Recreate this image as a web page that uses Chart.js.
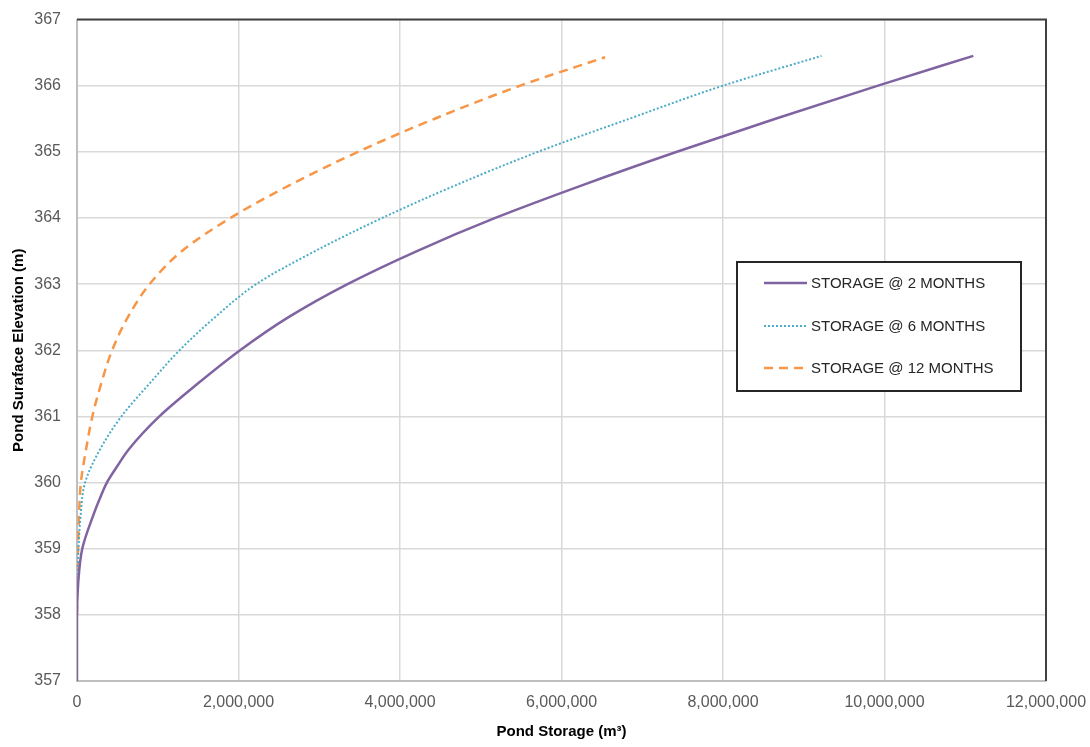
<!DOCTYPE html>
<html>
<head>
<meta charset="utf-8">
<title>Pond Storage</title>
<script src="https://cdn.jsdelivr.net/npm/chart.js@4.4.0/dist/chart.umd.min.js"></script>
<style>
  html, body { margin: 0; padding: 0; background: #fff; }
  #chart { display: block; }
</style>
</head>
<body>
<canvas id="chart" width="1090" height="747"></canvas>
<script>
// series labels
var seriesNames = ["STORAGE @ 2 MONTHS", "STORAGE @ 6 MONTHS", "STORAGE @ 12 MONTHS"];

// elevation (m) and storage (m3)
var elev2 = [357, 358, 358.5, 359, 359.5, 359.75, 360, 360.25, 360.5, 361, 361.5, 362, 362.5, 363, 363.5, 364, 364.5, 365, 365.5, 366, 366.45];
var storage2 = [0, 0, 16000, 65000, 200000, 280000, 370000, 500000, 640000, 1020000, 1500000, 2020000, 2620000, 3350000, 4210000, 5180000, 6270000, 7430000, 8650000, 9920000, 11100000];

var elev6 = [358, 358.5, 359, 359.5, 360, 360.5, 361, 361.5, 362, 362.5, 363, 363.5, 364, 364.5, 365, 365.5, 366, 366.45];
var storage6 = [0, 5000, 18000, 45000, 100000, 285000, 550000, 900000, 1270000, 1710000, 2220000, 2950000, 3780000, 4700000, 5710000, 6840000, 8000000, 9220000];

var elev12 = [358, 358.5, 359, 359.5, 360, 360.5, 361, 361.5, 362, 362.5, 363, 363.5, 364, 364.5, 365, 365.5, 366, 366.43];
var storage12 = [0, 3000, 12000, 25000, 48000, 112000, 190000, 300000, 435000, 630000, 900000, 1300000, 1900000, 2640000, 3480000, 4430000, 5490000, 6540000];

// axis ticks
var xTickMin = 0, xTickMax = 12000000, xTickStep = 2000000;
var yTickMin = 357, yTickMax = 367, yTickStep = 1;

function toPoints(xs, ys) {
	var pts = [];
	for (var i = 0; i < xs.length; i++) {
		pts.push({x: xs[i], y: ys[i]});
	}
	return pts;
}

var tickFont = {family: "'Liberation Sans', Arial, sans-serif", size: 16};
var titleFont = {family: "'Liberation Sans', Arial, sans-serif", size: 15, weight: 'bold'};

// top and right frame of the plot area
var frameLines = {
	id: 'frameLines',
	beforeDatasetsDraw: function(chart) {
		var a = chart.chartArea, ctx = chart.ctx;
		ctx.save();
		ctx.strokeStyle = '#404040';
		ctx.lineWidth = 2;
		ctx.beginPath();
		ctx.moveTo(a.left, a.top);
		ctx.lineTo(a.right, a.top);
		ctx.lineTo(a.right, a.bottom);
		ctx.stroke();
		ctx.restore();
	}
};

// legend box inside the plot
var boxLegend = {
	id: 'boxLegend',
	afterDraw: function(chart) {
		var ctx = chart.ctx;
		var bx = 737, by = 262, bw = 284, bh = 129;
		ctx.save();
		ctx.fillStyle = '#fff';
		ctx.fillRect(bx, by, bw, bh);
		ctx.strokeStyle = '#262626';
		ctx.lineWidth = 2;
		ctx.strokeRect(bx, by, bw, bh);
		var rows = [283, 326, 368];
		chart.data.datasets.forEach(function(ds, i) {
			var y = rows[i];
			ctx.beginPath();
			ctx.strokeStyle = ds.borderColor;
			ctx.lineWidth = ds.borderWidth;
			ctx.setLineDash(ds.borderDash || []);
			ctx.moveTo(764, y);
			ctx.lineTo(807, y);
			ctx.stroke();
			ctx.setLineDash([]);
			ctx.fillStyle = '#262626';
			ctx.font = "15px 'Liberation Sans', Arial, sans-serif";
			ctx.textBaseline = 'middle';
			ctx.textAlign = 'left';
			ctx.fillText(ds.label, 811, y + 1);
		});
		ctx.restore();
	}
};

var ctx = document.getElementById('chart');

var chart = new Chart(ctx, {
	type: 'scatter',
	data: {
		datasets: [
			{
				label: seriesNames[0],
				data: toPoints(storage2, elev2),
				showLine: true,
				borderColor: '#8064A2',
				borderWidth: 2.5,
				pointRadius: 0,
				cubicInterpolationMode: 'monotone'
			},
			{
				label: seriesNames[1],
				data: toPoints(storage6, elev6),
				showLine: true,
				borderColor: '#4BACC6',
				borderWidth: 2,
				borderDash: [2, 2],
				pointRadius: 0,
				cubicInterpolationMode: 'monotone'
			},
			{
				label: seriesNames[2],
				data: toPoints(storage12, elev12),
				showLine: true,
				borderColor: '#F79646',
				borderWidth: 2.5,
				borderDash: [9, 6],
				pointRadius: 0,
				cubicInterpolationMode: 'monotone'
			}
		]
	},
	options: {
		indexAxis: 'y',
		responsive: false,
		animation: false,
		layout: {padding: {top: 19.5, right: 44, left: 0, bottom: 0}},
		plugins: {
			legend: {display: false},
			tooltip: {enabled: false}
		},
		scales: {
			x: {
				type: 'linear',
				min: xTickMin,
				max: xTickMax,
				afterFit: function(scale) {
					scale.height = 66;
					scale.paddingLeft = 0;
					scale.paddingRight = 0;
				},
				ticks: {
					stepSize: xTickStep,
					font: tickFont,
					color: '#595959',
					padding: 12,
					maxRotation: 0,
					callback: function(v) { return v.toLocaleString('en-US'); }
				},
				grid: {color: '#d9d9d9', lineWidth: 1.5, drawTicks: false},
				border: {color: '#bfbfbf', width: 2},
				title: {
					display: true,
					text: 'Pond Storage (m³)',
					font: titleFont,
					color: '#000',
					padding: {top: 6, bottom: 6}
				}
			},
			y: {
				type: 'linear',
				min: yTickMin,
				max: yTickMax,
				afterFit: function(scale) {
					scale.width = 77;
					scale.paddingTop = 0;
					scale.paddingBottom = 0;
				},
				ticks: {
					stepSize: yTickStep,
					font: tickFont,
					color: '#595959',
					padding: 16
				},
				grid: {color: '#d9d9d9', lineWidth: 1.5, drawTicks: false},
				border: {color: '#bfbfbf', width: 2},
				title: {
					display: true,
					text: 'Pond Suraface Elevation (m)',
					font: titleFont,
					color: '#000',
					padding: {top: 10, bottom: 10}
				}
			}
		}
	},
	plugins: [frameLines, boxLegend]
});
</script>
</body>
</html>
